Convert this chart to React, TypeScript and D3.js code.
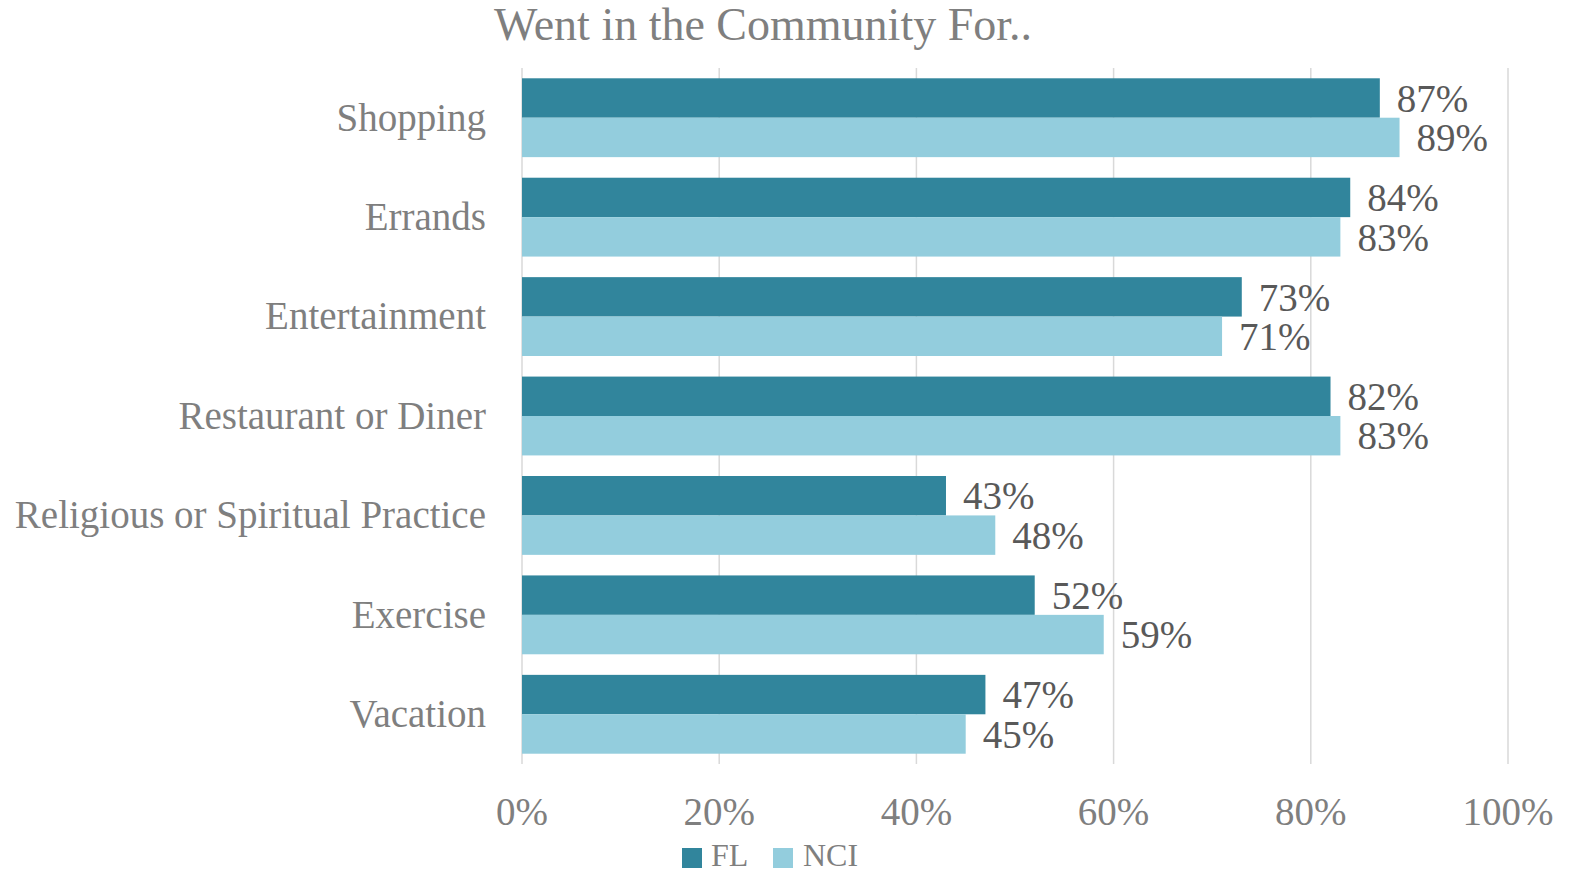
import React from "react";
import * as d3 from "d3";

const categories = ["Shopping", "Errands", "Entertainment", "Restaurant or Diner", "Religious or Spiritual Practice", "Exercise", "Vacation"];
const flValues = [87, 84, 73, 82, 43, 52, 47];
const nciValues = [89, 83, 71, 83, 48, 59, 45];
const seriesNames = ["FL", "NCI"];
const seriesColors = ["#31859C", "#93CDDD"];
const xTicks = [0, 20, 40, 60, 80, 100];

const W = 1573;
const H = 873;
const FONT = "'Liberation Serif', 'Times New Roman', serif";

export default function App() {
  const x = d3.scaleLinear().domain([0, 100]).range([522, 1508]);
  const y = d3.scaleBand<string>().domain(categories).range([68, 764]).paddingInner(0.207).paddingOuter(0.1035);
  const bw = y.bandwidth() / 2;
  const series = [flValues, nciValues];

  return (
    <svg width={W} height={H} style={{ position: "absolute", left: 0, top: 0, background: "#fff" }} fontFamily={FONT}>
      <rect x={0} y={0} width={W} height={H} fill="#fff" />
      <text x={763} y={40} textAnchor="middle" fontSize={46} fill="#7f7f7f">Went in the Community For..</text>
      {xTicks.map((t) => (
        <line key={t} x1={x(t)} x2={x(t)} y1={68} y2={764} stroke="#d9d9d9" strokeWidth={1.5} />
      ))}
      {categories.map((c, i) => (
        <g key={c}>
          {series.map((vals, s) => {
            const y0 = (y(c) as number) + s * bw;
            return (
              <g key={s}>
                <rect x={x(0)} y={y0} width={x(vals[i]) - x(0)} height={bw} fill={seriesColors[s]} />
                <text x={x(vals[i]) + 17} y={y0 + bw / 2} dy="0.35em" fontSize={39} fill="#595959">{vals[i]}%</text>
              </g>
            );
          })}
          <text x={486} y={(y(c) as number) + y.bandwidth() / 2} dy="0.33em" textAnchor="end" fontSize={39} fill="#7f7f7f">{c}</text>
        </g>
      ))}
      {xTicks.map((t) => (
        <text key={t} x={x(t)} y={825} textAnchor="middle" fontSize={39} fill="#7f7f7f">{t}%</text>
      ))}
      <g>
        <rect x={682} y={848} width={20} height={20} fill={seriesColors[0]} />
        <text x={711} y={866} fontSize={32} fill="#7f7f7f">{seriesNames[0]}</text>
        <rect x={773} y={848} width={20} height={20} fill={seriesColors[1]} />
        <text x={803} y={866} fontSize={32} fill="#7f7f7f">{seriesNames[1]}</text>
      </g>
    </svg>
  );
}
